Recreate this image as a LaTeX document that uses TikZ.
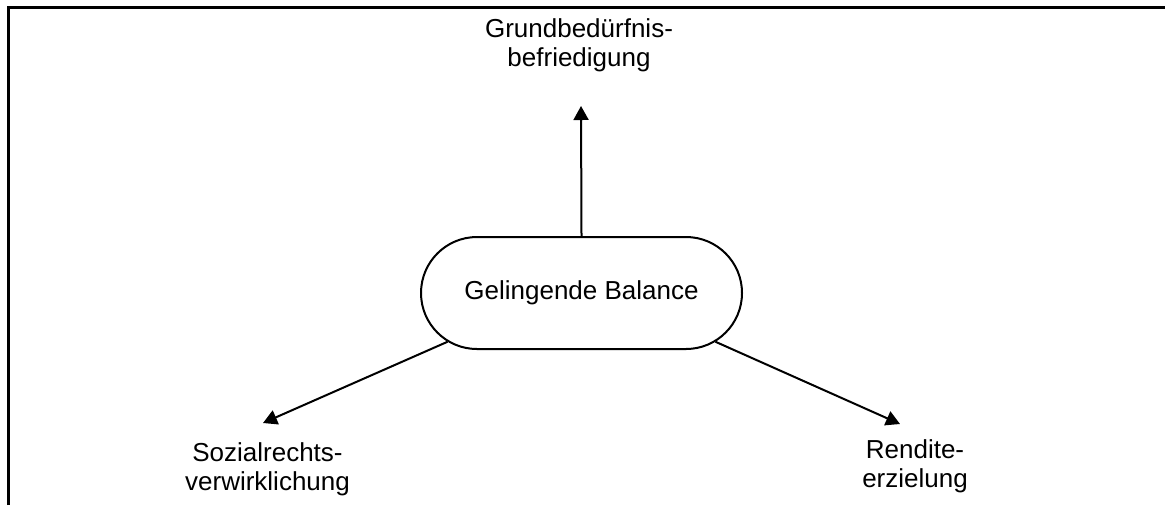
\documentclass[tikz,border=0pt]{standalone}
\usepackage{fontspec}
\setmainfont{Liberation Sans}
\usetikzlibrary{positioning}
\usetikzlibrary{shapes.misc}
\usetikzlibrary{arrows.meta}

\begin{document}
\begin{tikzpicture}[->,>={Triangle[length=7pt,width=7.5pt]},x=0.5pt,y=-0.5pt,
			line width=1pt,font=\fontsize{13pt}{14.5pt}\selectfont]
			\tikzstyle{balance}=[draw,rounded rectangle,minimum width=160.5pt,minimum height=56pt,inner sep=0pt]
			\tikzstyle{goal}=[align=center,inner sep=0pt]
			
			\useasboundingbox (0,0) rectangle (1165,505);
			\draw[-,line width=1.5pt] (8,505) -- (8,7) -- (1165,7);
			
			\node[balance]  (bal)   at (581.5,293) {Gelingende Balance};
			\node[goal]     (grund) at (579,45)    {Grundbedürfnis-\\befriedigung};
			\node[goal]     (soz)   at (267.5,469) {Sozialrechts-\\verwirklichung};
			\node[goal]     (rend)  at (915,466)   {Rendite-\\erzielung};
			
			\coordinate (grund_tip) at (581,106);
			\coordinate (soz_tip)   at (263,423);
			\coordinate (rend_tip)  at (900,424);
			
			\path (bal.north) edge (grund_tip)
			(bal.200)   edge (soz_tip)
			(bal.-20)   edge (rend_tip);
\end{tikzpicture}
\end{document}
